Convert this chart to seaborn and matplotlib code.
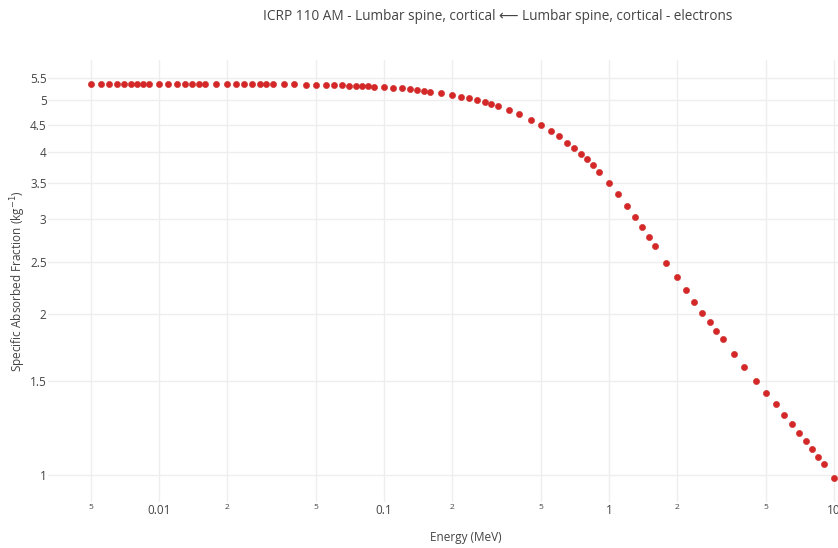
import seaborn as sns
import matplotlib.pyplot as plt
import pandas as pd

energy = [0.005, 0.0055, 0.006, 0.0065, 0.007, 0.0075, 0.008, 0.0085, 0.009,
          0.01, 0.011, 0.012, 0.013, 0.014, 0.015, 0.016,
          0.018, 0.02, 0.022, 0.024, 0.026, 0.028, 0.03, 0.032,
          0.036, 0.04, 0.045,
          0.05, 0.055, 0.06, 0.065, 0.07, 0.075, 0.08, 0.085, 0.09,
          0.1, 0.11, 0.12, 0.13, 0.14, 0.15, 0.16,
          0.18, 0.2, 0.22, 0.24, 0.26, 0.28, 0.3, 0.32,
          0.36, 0.4, 0.45,
          0.5, 0.55, 0.6, 0.65, 0.7, 0.75, 0.8, 0.85, 0.9,
          1.0, 1.1, 1.2, 1.3, 1.4, 1.5, 1.6,
          1.8, 2.0, 2.2, 2.4, 2.6, 2.8, 3.0, 3.2,
          3.6, 4.0, 4.5,
          5.0, 5.5, 6.0, 6.5, 7.0, 7.5, 8.0, 8.5, 9.0,
          10.0]
saf = [5.37, 5.37, 5.37, 5.37, 5.37, 5.37, 5.37, 5.37, 5.37,
       5.37, 5.36, 5.36, 5.36, 5.36, 5.36, 5.36,
       5.36, 5.36, 5.36, 5.35, 5.35, 5.35, 5.35, 5.35,
       5.35, 5.35, 5.34,
       5.34, 5.34, 5.33, 5.33, 5.32, 5.32, 5.31, 5.31, 5.30,
       5.29, 5.28, 5.26, 5.24, 5.22, 5.21, 5.19,
       5.16, 5.12, 5.08, 5.04, 5.00, 4.96, 4.92, 4.88,
       4.80, 4.71, 4.60,
       4.49, 4.38, 4.28, 4.17, 4.07, 3.97, 3.88, 3.78, 3.68,
       3.51, 3.34, 3.18, 3.03, 2.90, 2.78, 2.68,
       2.49, 2.34, 2.21, 2.10, 2.007, 1.928, 1.854, 1.793,
       1.684, 1.593, 1.500,
       1.424, 1.356, 1.297, 1.245, 1.198, 1.156, 1.117, 1.081, 1.049,
       0.988]

x_ticks = [0.005, 0.01, 0.02, 0.05, 0.1, 0.2, 0.5, 1, 2, 5, 10]
x_labels = ["5", "0.01", "2", "5", "0.1", "2", "5", "1", "2", "5", "10"]
y_ticks = [1, 1.5, 2, 2.5, 3, 3.5, 4, 4.5, 5, 5.5]
y_labels = ["1", "1.5", "2", "2.5", "3", "3.5", "4", "4.5", "5", "5.5"]

df = pd.DataFrame({"energy": energy, "saf": saf})

sns.set_style("white")
plt.rcParams['font.family'] = ['Open Sans', 'DejaVu Sans']

fig = plt.figure(figsize=(8.38, 5.48), dpi=100)
ax = fig.add_axes([48 / 838, 46 / 548, 790 / 838, 442 / 548])

sns.scatterplot(data=df, x="energy", y="saf", ax=ax, color="#d62728",
                s=20, edgecolor="#c9302c", linewidth=0.4, zorder=3)

ax.set_xscale("log")
ax.set_yscale("log")
ax.set_xlim(10 ** -2.493, 10 ** 1.018)
ax.set_ylim(10 ** -0.050, 10 ** 0.774)

ax.set_xticks(x_ticks)
ax.set_xticklabels(x_labels)
ax.set_yticks(y_ticks)
ax.set_yticklabels(y_labels)
ax.minorticks_off()
for lab in ax.get_xticklabels():
    if lab.get_text() in ("2", "5"):
        lab.set_fontsize(6)
    else:
        lab.set_fontsize(8.5)
for lab in ax.get_yticklabels():
    lab.set_fontsize(8.5)
ax.tick_params(axis="both", colors="#444444", length=0)
ax.tick_params(axis="x", pad=1.5)
ax.tick_params(axis="y", pad=1)

ax.grid(True, color="#eeeeee", linewidth=1)
ax.set_axisbelow(True)
for sp in ax.spines.values():
    sp.set_visible(False)

ax.set_xlabel("Energy (MeV)", fontsize=8.5, color="#444444")
ax.xaxis.set_label_coords((466 - 48) / 790, -(537 - 502) / 442)
ax.xaxis.label.set_va("center")
ax.set_ylabel("Specific Absorbed Fraction (kg$^{-1}$)", fontsize=8.5,
              color="#444444")
ax.yaxis.set_label_coords(-(48 - 18) / 790, (502 - 281) / 442)
ax.yaxis.label.set_va("center")
fig.text(498 / 838, 1 - 17 / 548,
         "ICRP 110 AM - Lumbar spine, cortical \u27f5 Lumbar spine, cortical - electrons",
         ha="center", va="center", fontsize=9.8, color="#444444")

fig.savefig("out.png", dpi=100)
